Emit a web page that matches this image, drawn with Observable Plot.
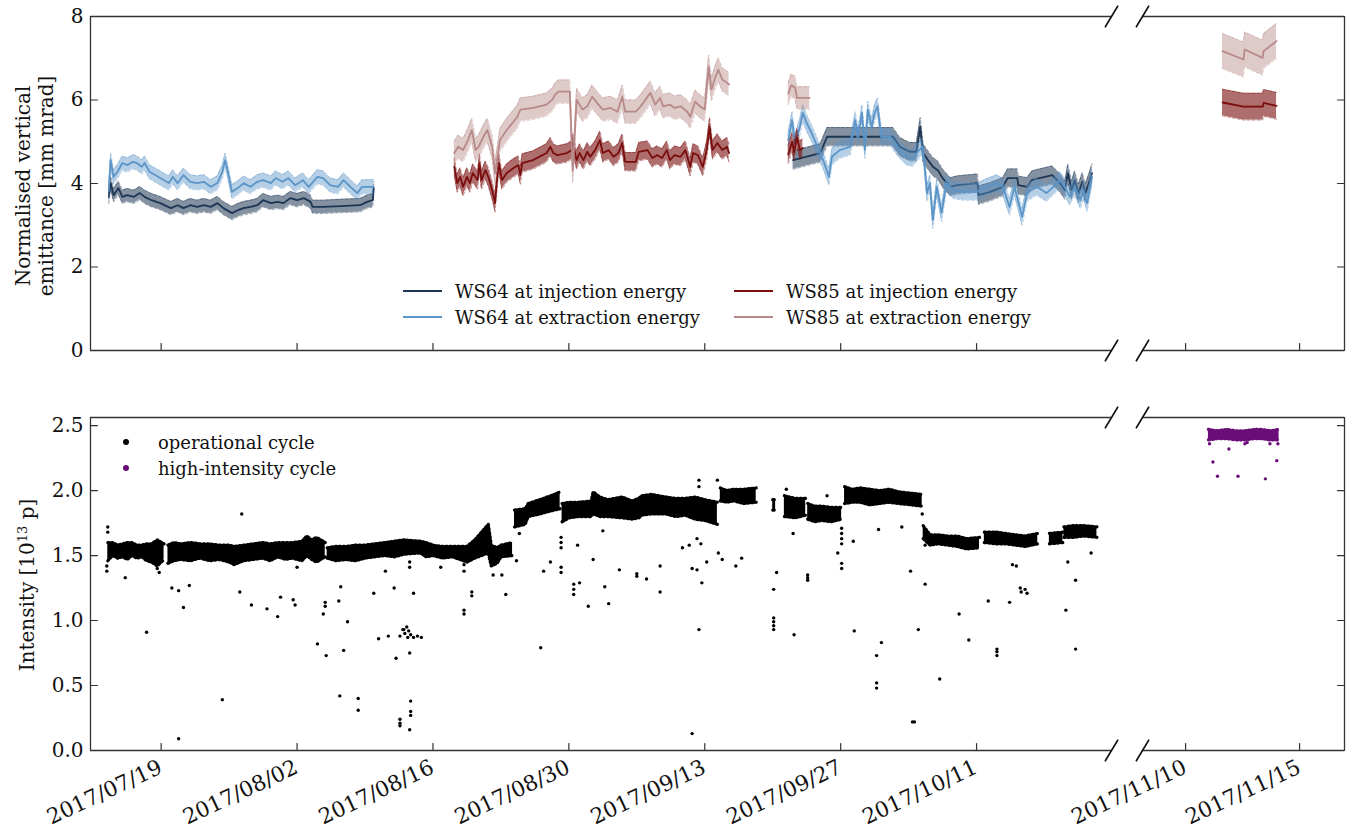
<!DOCTYPE html>
<html><head><meta charset="utf-8">
<script src="https://cdn.jsdelivr.net/npm/d3@7"></script>
<script src="https://cdn.jsdelivr.net/npm/@observablehq/plot@0.6"></script>
<style>
body{margin:0;background:#fff;}
#wrap{position:relative;width:1351px;height:834px;font-family:"DejaVu Serif",serif;color:#111;overflow:hidden;}
.leg{position:absolute;font-size:18px;white-space:nowrap;display:flex;align-items:center;height:24px;}
.ylab{position:absolute;font-size:20px;text-align:center;transform:rotate(-90deg);white-space:nowrap;}
</style></head><body><div id="wrap"></div>
<script>
// ---------- DATA (time t = days since 2017-07-01 UTC) ----------
const xDomainLeft = ["2017-07-11T17:17Z", "2017-10-24T21:36Z"];
const xDomainRight = ["2017-11-08T02:38Z", "2017-11-16T23:17Z"];
const xTicksLeft = ["2017-07-19", "2017-08-02", "2017-08-16", "2017-08-30", "2017-09-13", "2017-09-27", "2017-10-11"];
const xTicksRight = ["2017-11-10", "2017-11-15"];
const yTicksTop = [0, 2, 4, 6, 8];
const yDomainTop = [0, 8];
const yTicksBottom = [0, 0.5, 1.0, 1.5, 2.0, 2.5];
const yDomainBottom = [0, 2.562];

// emittance series [t, value], null separates measurement periods
const ws64Inj = [[12.6,3.68],[12.8,4.01],[13.1,3.72],[13.6,3.89],[14.0,3.68],[14.5,3.72],[15.2,3.68],[15.8,3.77],[16.3,3.68],[17.0,3.60],[17.9,3.53],[19.0,3.41],[19.7,3.48],[20.3,3.41],[21.0,3.48],[21.7,3.44],[22.4,3.48],[23.1,3.44],[23.8,3.53],[24.4,3.41],[25.3,3.29],[25.9,3.36],[26.5,3.41],[27.2,3.44],[27.9,3.48],[28.5,3.60],[29.3,3.53],[30.0,3.56],[30.6,3.53],[31.3,3.65],[32.0,3.60],[32.7,3.65],[33.4,3.56],[33.6,3.44],[34.7,3.44],[36.5,3.46],[38.5,3.48],[39.2,3.56],[39.8,3.60],[39.9,3.89],
  null,
  [83.1,4.56],[85.9,4.73],[86.6,5.12],[89.3,5.12],[92.0,5.12],[93.4,5.12],[94.1,4.88],[95.1,4.76],[95.8,4.76],[96.2,5.36],[96.5,4.73],[97.0,4.56],[97.5,4.40],[98.0,4.32],[98.5,4.13],[99.3,3.92],[100.0,3.96],[102.1,4.01],[102.2,3.72],[103.4,3.80],[104.7,3.92],[105.2,4.13],[106.2,4.13],[106.3,3.96],[107.2,3.92],[107.7,4.08],[108.5,4.13],[109.8,4.20],[110.6,4.01],[111.1,3.84],[111.4,4.25],[111.8,3.84],[112.1,4.08],[112.5,3.77],[112.9,4.04],[113.2,3.77],[113.5,3.96],[113.9,4.25]];
const ws64InjErr = [0.16, 0.22];

const ws64Ext = [[12.6,3.84],[12.8,4.56],[13.1,4.16],[13.5,4.28],[14.0,4.49],[14.5,4.44],[15.1,4.52],[15.5,4.49],[16.0,4.40],[16.3,4.49],[16.8,4.28],[17.9,4.13],[18.8,4.01],[19.2,4.16],[19.7,4.01],[20.3,4.20],[21.0,4.04],[21.7,4.01],[22.4,4.04],[23.1,3.92],[23.8,4.01],[24.3,4.28],[24.6,4.56],[24.9,4.25],[25.3,3.80],[25.9,3.89],[26.5,4.01],[27.2,3.92],[27.9,4.04],[28.5,4.08],[29.3,4.01],[29.8,4.13],[30.5,4.04],[31.1,4.13],[31.8,3.96],[32.6,4.08],[33.2,3.92],[34.1,4.16],[34.7,4.13],[35.4,3.96],[36.2,3.92],[36.8,4.08],[37.5,3.92],[38.2,3.77],[38.7,3.92],[39.9,3.92],
  null,
  [82.6,5.04],[83.0,5.52],[83.3,4.97],[83.8,5.36],[84.1,5.69],[84.5,5.45],[85.0,5.21],[85.6,4.88],[86.2,4.56],[86.8,4.16],[87.1,4.64],[87.9,4.80],[89.0,4.88],[89.5,5.52],[89.8,5.12],[90.2,5.69],[90.5,4.80],[90.8,5.77],[91.2,5.36],[91.5,5.69],[91.8,5.85],[92.2,5.12],[93.1,5.12],[93.9,4.85],[94.8,4.64],[95.4,4.61],[96.4,4.88],[96.6,4.56],[96.9,3.77],[97.2,4.01],[97.5,3.12],[97.9,3.92],[98.4,3.29],[98.9,4.01],[99.6,3.84],[100.6,3.80],[102.0,3.80],[103.1,3.92],[104.1,4.01],[104.7,3.92],[105.4,3.44],[105.9,3.92],[106.7,3.20],[107.2,3.77],[108.2,3.92],[109.2,3.77],[109.9,3.92],[110.6,4.08],[111.1,3.92],[111.6,3.68],[112.1,3.92],[112.7,3.60],[113.0,3.84],[113.4,3.53],[113.9,4.16]];
const ws64ExtErr = [0.17, 0.2];

const ws85Inj = [[48.2,4.40],[48.5,4.01],[48.8,4.16],[49.1,3.92],[49.5,4.16],[49.8,4.01],[50.1,4.25],[50.6,4.08],[50.8,4.49],[51.0,4.08],[51.4,4.32],[51.7,4.16],[52.1,3.84],[52.4,3.53],[52.6,4.08],[52.8,4.49],[53.1,4.08],[53.6,4.25],[54.3,4.37],[54.8,4.44],[55.0,4.20],[55.2,4.49],[56.3,4.56],[57.7,4.73],[58.1,4.88],[58.4,4.73],[58.8,4.68],[59.8,4.73],[60.3,4.80],[60.4,4.97],[60.8,4.56],[61.1,4.73],[61.5,4.56],[61.9,4.76],[62.2,4.64],[62.7,4.80],[63.2,5.04],[63.5,4.73],[64.1,4.80],[64.6,4.64],[65.1,4.73],[65.5,4.97],[65.8,4.52],[66.9,4.52],[67.2,4.76],[68.1,4.80],[68.6,4.61],[69.1,4.68],[69.6,4.61],[70.1,4.80],[70.4,4.56],[70.9,4.68],[71.5,4.64],[72.0,4.80],[72.5,4.40],[72.8,4.73],[73.3,4.68],[73.8,4.40],[74.2,4.80],[74.5,5.36],[74.8,4.80],[75.3,4.97],[75.8,4.80],[76.3,4.88],[76.5,4.73],
  null,
  [82.6,4.70],[83.0,5.00],[83.2,4.75],[83.5,5.10],[83.8,4.80],[84.1,4.85]];
const ws85InjErr = [0.22, 0.22];

const ws85Ext = [[48.2,4.73],[48.6,4.88],[49.1,4.80],[49.6,5.04],[50.0,5.28],[50.4,4.80],[50.7,4.88],[51.2,5.12],[51.6,5.28],[52.1,4.88],[52.4,4.25],[52.9,5.04],[53.6,5.28],[54.7,5.60],[55.0,5.77],[56.3,5.81],[57.7,5.89],[58.3,6.01],[58.6,6.13],[58.9,6.20],[60.1,6.20],[60.4,4.30],[60.8,6.01],[61.4,5.77],[61.9,5.85],[62.4,6.08],[62.9,5.93],[63.5,5.77],[64.3,5.81],[65.0,5.72],[65.5,6.08],[65.8,5.72],[66.9,5.72],[67.4,5.85],[68.4,6.17],[68.9,5.89],[69.4,6.05],[69.7,5.85],[70.4,5.89],[70.9,5.81],[71.5,5.85],[72.2,5.72],[72.5,5.60],[73.0,5.96],[73.5,5.85],[74.0,5.77],[74.4,6.80],[74.7,6.25],[75.0,6.49],[75.4,6.73],[75.8,6.49],[76.3,6.41],[76.5,6.37],
  null,
  [82.6,6.15],[82.9,6.35],[83.3,6.30],[83.5,6.05],[84.8,6.05]];
const ws85ExtErr = [0.28, 0.27];

const ws85InjNov = [[133.62,5.94],[134.54,5.84],[135.38,5.84],[135.42,5.93],[135.99,5.86]];
const ws85InjNovErr = [0.32];
const ws85ExtNov = [[133.62,7.17],[134.54,6.97],[134.59,7.21],[135.38,7.01],[135.42,7.17],[135.99,7.41]];
const ws85ExtNovErr = [0.42];

// intensity: dense operational band [t, low, high], null separates blocks
const opBand = [[12.5,1.46,1.60],[13.0,1.50,1.60],[13.5,1.48,1.58],[14.0,1.49,1.59],[14.5,1.47,1.60],[15.0,1.50,1.60],[15.5,1.48,1.58],[16.0,1.49,1.58],[16.5,1.46,1.59],[17.0,1.45,1.59],[17.6,1.42,1.62],[18.3,1.47,1.59],
  null,[18.7,1.44,1.58],[19.3,1.46,1.60],[20,1.47,1.59],[21,1.46,1.60],[22,1.48,1.59],[23,1.46,1.59],[24,1.47,1.58],[25,1.45,1.58],[25.5,1.43,1.57],[26.5,1.46,1.58],[27.5,1.47,1.59],[28.5,1.48,1.60],[29.2,1.46,1.59],[30,1.49,1.60],[30.8,1.47,1.60],[31.5,1.48,1.60],[32.5,1.46,1.61],[33,1.50,1.65],[33.5,1.47,1.62],[34,1.45,1.64],[34.9,1.49,1.60],
  null,[35.1,1.48,1.56],[36,1.46,1.57],[37,1.47,1.57],[38,1.46,1.58],[39,1.48,1.58],[40,1.49,1.59],[41,1.50,1.60],[42,1.49,1.61],[43,1.51,1.62],[44.7,1.52,1.61],[45.3,1.49,1.60],[46,1.50,1.58],[47,1.48,1.57],[48,1.49,1.57],[49.5,1.45,1.57],[50.3,1.48,1.62],[51.0,1.50,1.68],[51.7,1.52,1.74],[52.0,1.42,1.58],[52.6,1.44,1.56],[53.0,1.49,1.58],[54.2,1.50,1.60],
  null,[54.4,1.72,1.85],[55.5,1.74,1.86],[55.8,1.80,1.90],[57,1.82,1.93],[58.5,1.85,1.97],[59.1,1.86,1.99],
  null,[59.3,1.76,1.90],[60,1.79,1.91],[61,1.80,1.91],[62.3,1.80,1.92],[62.5,1.82,1.99],[63.2,1.80,1.95],[64,1.80,1.93],[65.5,1.79,1.95],[66.5,1.78,1.92],[67.2,1.79,1.94],[67.5,1.81,1.96],[68.5,1.82,1.97],[70,1.82,1.95],[71,1.80,1.94],[72,1.81,1.94],[73,1.78,1.95],[74,1.77,1.93],[75.3,1.74,1.91],
  null,[75.6,1.92,2.02],[76.3,1.91,2.00],[77,1.92,2.01],[78,1.90,2.01],[79.3,1.91,2.02],
  null,[81.0,1.85,1.93],[81.3,1.85,1.93],
  null,[82.2,1.80,1.96],[83.3,1.79,1.94],[84.4,1.81,1.94],
  null,[84.6,1.78,1.90],[85.3,1.76,1.88],[86,1.77,1.88],[87,1.76,1.87],[88.1,1.78,1.87],
  null,[88.4,1.90,2.03],[89.2,1.91,2.01],[90,1.91,2.02],[91,1.89,2.01],[92,1.90,2.00],[93,1.91,2.01],[94,1.90,1.99],[95.2,1.89,1.98],[96.4,1.88,1.97],
  null,[96.5,1.63,1.73],[97.2,1.58,1.66],[98,1.59,1.66],[99,1.58,1.65],[100,1.57,1.65],[101,1.55,1.63],[102.3,1.56,1.64],
  null,[102.8,1.60,1.68],[104,1.59,1.68],[105,1.59,1.67],[106,1.58,1.66],[107,1.57,1.65],[108.3,1.59,1.67],
  null,[109.5,1.59,1.67],[110.9,1.60,1.68],
  null,[111.0,1.64,1.72],[112,1.64,1.73],[113,1.65,1.73],[114.4,1.64,1.72]];

const opDots = [[12.5,1.72],[12.5,1.68],[12.4,1.42],[12.4,1.38],[14.3,1.33],[16.5,0.91],[17.6,1.40],[17.8,1.37],[19.1,1.25],[19.8,1.23],[19.8,0.09],[20.3,1.10],[20.9,1.27],[24.3,0.39],[26.3,1.82],[26.1,1.22],[27.3,1.12],[28.9,1.09],[30.0,1.03],[30.3,1.18],[31.6,1.16],[31.8,1.12],[32.0,1.41],[34.1,0.82],[34.7,1.05],[34.9,1.14],[34.9,1.11],[35.0,0.73],[36.3,1.15],[36.5,1.26],[36.4,0.42],[36.8,0.77],[37.2,0.99],[38.3,0.40],[38.3,0.31],[39.9,1.21],[40.4,0.86],[41.1,1.38],[41.4,0.88],[42.0,1.25],[42.2,0.71],[42.6,0.88],[42.9,0.93],[43.1,0.90],[43.3,0.95],[43.5,0.92],[43.7,0.89],[44.0,0.87],[44.4,0.88],[44.8,0.87],[43.0,0.93],[43.4,0.87],[42.6,0.24],[42.6,0.21],[42.6,0.19],[43.6,0.75],[43.7,0.38],[43.7,0.30],[43.7,0.27],[43.6,0.16],[44.0,1.21],[43.6,1.41],[43.6,1.45],[46.8,1.41],[49.2,1.08],[49.2,1.05],[49.2,1.38],[49.2,1.43],[50.0,1.22],[50.0,1.19],[52.2,1.35],[53.1,1.35],[53.5,1.20],[54.6,1.46],[54.9,1.67],[57.1,0.79],[57.4,1.38],[58.1,1.45],[59.2,1.64],[59.2,1.60],[59.2,1.56],[59.2,1.41],[59.2,1.37],[60.5,1.28],[60.5,1.24],[60.5,1.20],[60.9,1.58],[61.1,1.29],[62.0,1.11],[62.5,1.47],[63.5,1.69],[63.7,1.26],[64.1,1.13],[65.2,1.39],[67.0,1.36],[67.0,1.34],[68.0,1.32],[69.4,1.42],[69.4,1.22],[71.7,1.56],[72.4,1.58],[72.7,1.40],[73.2,1.39],[72.7,0.13],[73.2,1.63],[73.4,0.93],[73.4,2.08],[73.4,2.03],[73.6,1.59],[73.7,1.29],[74.2,1.45],[75.3,2.08],[75.4,1.52],[75.8,1.47],[77.2,1.42],[77.8,1.48],[81.1,1.24],[81.1,1.02],[81.1,0.99],[81.1,0.96],[81.1,0.93],[81.4,1.37],[82.4,2.01],[83.1,1.67],[83.2,0.89],[84.6,1.35],[84.6,1.33],[84.6,1.31],[86.6,1.96],[87.7,1.52],[88.1,1.71],[88.1,1.67],[88.1,1.63],[88.1,1.59],[88.1,1.44],[88.1,1.40],[89.3,1.61],[89.4,0.92],[91.7,0.73],[91.7,0.52],[91.7,0.48],[91.9,1.70],[92.2,0.83],[94.3,1.72],[95.2,1.38],[95.4,0.22],[95.6,0.22],[96.0,0.93],[96.4,1.82],[96.7,1.58],[96.7,1.28],[98.2,0.55],[100.2,1.05],[101.2,0.85],[103.2,1.15],[104.1,0.78],[104.1,0.76],[104.1,0.73],[105.4,1.14],[105.7,1.43],[106.1,1.42],[106.5,1.25],[106.6,1.22],[107.0,1.24],[107.2,1.21],[111.2,1.08],[111.4,1.45],[112.2,1.31],[112.2,0.78],[113.8,1.52]];

const hiBand = [[133.0,2.39,2.47],[133.4,2.40,2.46],[133.8,2.40,2.47],[134.2,2.39,2.46],[134.6,2.39,2.46],[135.0,2.40,2.47],[135.3,2.40,2.47],[135.7,2.39,2.46],[136.1,2.39,2.47]];
const hiDots = [[133.2,2.22],[133.4,2.11],[133.9,2.32],[134.3,2.11],[135.5,2.09],[136.0,2.23],[133.05,2.36],[134.6,2.36],[134.7,2.37],[135.7,2.36],[136.05,2.36]];

// colours
const C = {
  ws64Inj: "#1d3654", ws64Ext: "#5b95c8", ws85Inj: "#7a0d0d", ws85Ext: "#b78989",
  op: "#000000", hi: "#6a0d78", frame: "#333333"
};

// ---------- BUILD ----------
const BASE = Date.UTC(2017, 6, 1);
const day = t => new Date(BASE + t * 864e5);
const P = s => new Date(s.length === 10 ? s + "T00:00:00Z" : s);

function rows(pairs, errs) {
  let seg = 0; const out = [];
  for (const p of pairs) {
    if (p === null) { seg++; continue; }
    const e = errs[seg];
    out.push({date: day(p[0]), v: p[1], lo: p[1] - e, hi: p[1] + e, seg});
  }
  return out;
}
function bandRows(trips) {
  let seg = 0; const out = [];
  for (const p of trips) {
    if (p === null) { seg++; continue; }
    out.push({date: day(p[0]), lo: p[1], hi: p[2], seg});
  }
  return out;
}
const dotRows = pairs => pairs.map(p => ({date: day(p[0]), v: p[1]}));

const lineShape = {draw(ctx, l) { ctx.moveTo(0, 0); ctx.lineTo(0, -l); }};

function seriesMarks(data, color, bandOpacity) {
  return [
    Plot.areaY(data, {x: "date", y1: "lo", y2: "hi", z: "seg", fill: color, fillOpacity: bandOpacity}),
    Plot.line(data, {x: "date", y: "lo", z: "seg", stroke: color, strokeOpacity: 0.55, strokeWidth: 0.8, strokeDasharray: "3,2"}),
    Plot.line(data, {x: "date", y: "hi", z: "seg", stroke: color, strokeOpacity: 0.55, strokeWidth: 0.8, strokeDasharray: "3,2"}),
    Plot.line(data, {x: "date", y: "v", z: "seg", stroke: color, strokeWidth: 1.8})
  ];
}
function bandMarks(data, color) {
  return [
    Plot.areaY(data, {x: "date", y1: "lo", y2: "hi", z: "seg", fill: color}),
    Plot.line(data, {x: "date", y: "lo", z: "seg", stroke: color, strokeWidth: 3.2, strokeDasharray: "1.5,2.5", strokeLinecap: "round"}),
    Plot.line(data, {x: "date", y: "hi", z: "seg", stroke: color, strokeWidth: 3.2, strokeDasharray: "1.5,2.5", strokeLinecap: "round"})
  ];
}

function frameMarks(side, xd, yd, yTicks, xTicks) {
  const xEdge = side === "left" ? xd[0] : xd[1];
  const xBreak = side === "left" ? xd[1] : xd[0];
  return [
    Plot.ruleY([yd[1]], {stroke: C.frame, strokeWidth: 1.3}),
    Plot.ruleY([yd[0]], {stroke: C.frame, strokeWidth: 1.3}),
    Plot.ruleX([xEdge], {stroke: C.frame, strokeWidth: 1.3}),
    Plot.vector(xTicks, {x: d => d, frameAnchor: "bottom", length: 7, rotate: 0, anchor: "start", shape: lineShape, stroke: C.frame, strokeWidth: 1.2}),
    Plot.vector(yTicks, {y: d => d, frameAnchor: side, length: 7, rotate: side === "left" ? 90 : -90, anchor: "start", shape: lineShape, stroke: C.frame, strokeWidth: 1.2}),
    Plot.vector([xBreak], {x: d => d, frameAnchor: "top", length: 24, rotate: 31, anchor: "middle", shape: lineShape, stroke: "#111", strokeWidth: 1.6}),
    Plot.vector([xBreak], {x: d => d, frameAnchor: "bottom", length: 24, rotate: 31, anchor: "middle", shape: lineShape, stroke: "#111", strokeWidth: 1.6})
  ];
}

// rotated date labels drawn as a text mark at each tick
const fmtDate = d3.utcFormat("%Y/%m/%d");
const dateLabels = ticks => Plot.text(ticks, {
  x: d => d, frameAnchor: "bottom", text: d => fmtDate(d), rotate: -25,
  textAnchor: "end", lineAnchor: "top", dx: -4, dy: 8, fontSize: 21.5, fill: "#111"
});

const wrap = document.getElementById("wrap");
const STYLE = {fontFamily: "DejaVu Serif", fontSize: "20px", background: "transparent", overflow: "visible", color: "#111"};

function place(svg, left, top) {
  svg.style.position = "absolute";
  svg.style.left = left + "px";
  svg.style.top = top + "px";
  wrap.appendChild(svg);
}

const xdL = xDomainLeft.map(P), xdR = xDomainRight.map(P);
const xtL = xTicksLeft.map(P), xtR = xTicksRight.map(P);

// top-left
place(Plot.plot({
  width: 1125, height: 370, marginLeft: 90, marginRight: 14, marginTop: 16, marginBottom: 20,
  x: {type: "utc", domain: xdL, axis: null},
  y: {domain: yDomainTop, label: null},
  style: STYLE,
  marks: [
    ...seriesMarks(rows(ws64Inj, ws64InjErr), C.ws64Inj, 0.55),
    ...seriesMarks(rows(ws64Ext, ws64ExtErr), C.ws64Ext, 0.45),
    ...seriesMarks(rows(ws85Inj, ws85InjErr), C.ws85Inj, 0.6),
    ...seriesMarks(rows(ws85Ext, ws85ExtErr), C.ws85Ext, 0.45),
    Plot.axisY(yTicksTop, {tickSize: 0, tickPadding: 7, label: null, fontSize: 20}),
    ...frameMarks("left", xdL, yDomainTop, yTicksTop, xtL)
  ]
}), 0, 0);

// top-right
place(Plot.plot({
  width: 226, height: 370, marginLeft: 17, marginRight: 7, marginTop: 16, marginBottom: 20,
  x: {type: "utc", domain: xdR, axis: null},
  y: {domain: yDomainTop, axis: null},
  style: STYLE,
  marks: [
    ...seriesMarks(rows(ws85InjNov, ws85InjNovErr), C.ws85Inj, 0.6),
    ...seriesMarks(rows(ws85ExtNov, ws85ExtNovErr), C.ws85Ext, 0.45),
    ...frameMarks("right", xdR, yDomainTop, yTicksTop, xtR)
  ]
}), 1125, 0);

// bottom-left
place(Plot.plot({
  width: 1125, height: 444, marginLeft: 90, marginRight: 14, marginTop: 27, marginBottom: 84,
  x: {type: "utc", domain: xdL, axis: null},
  y: {domain: yDomainBottom, label: null},
  style: STYLE,
  marks: [
    ...bandMarks(bandRows(opBand), C.op),
    Plot.dot(dotRows(opDots), {x: "date", y: "v", r: 1.7, fill: C.op}),
    Plot.axisY(yTicksBottom, {tickSize: 0, tickPadding: 7, label: null, tickFormat: d3.format(".1f"), fontSize: 20}),
    dateLabels(xtL),
    ...frameMarks("left", xdL, yDomainBottom, yTicksBottom, xtL)
  ]
}), 0, 390);

// bottom-right
place(Plot.plot({
  width: 226, height: 444, marginLeft: 17, marginRight: 7, marginTop: 27, marginBottom: 84,
  x: {type: "utc", domain: xdR, axis: null},
  y: {domain: yDomainBottom, axis: null},
  style: STYLE,
  marks: [
    ...bandMarks(bandRows(hiBand), C.hi),
    Plot.dot(dotRows(hiDots), {x: "date", y: "v", r: 1.7, fill: C.hi}),
    dateLabels(xtR),
    ...frameMarks("right", xdR, yDomainBottom, yTicksBottom, xtR)
  ]
}), 1125, 390);

// ---------- LABELS & LEGENDS ----------
function ylabel(html, cx, cy, w, h) {
  const d = document.createElement("div");
  d.className = "ylab";
  d.style.width = w + "px"; d.style.height = h + "px"; d.style.lineHeight = "23px";
  d.style.left = (cx - w / 2) + "px"; d.style.top = (cy - h / 2) + "px";
  d.innerHTML = html;
  wrap.appendChild(d);
}
ylabel("Normalised vertical<br>emittance [mm mrad]", 35, 186, 300, 46);
ylabel("Intensity [10<sup style='font-size:13px;vertical-align:7px;line-height:0'>13</sup> p]", 28, 585, 300, 24);

function legLine(x, y, color, text) {
  const d = document.createElement("div");
  d.className = "leg";
  d.style.left = x + "px"; d.style.top = (y - 12) + "px";
  d.innerHTML = `<svg width="39" height="6" style="margin-right:13px"><line x1="0" y1="3" x2="39" y2="3" stroke="${color}" stroke-width="2"/></svg>${text}`;
  wrap.appendChild(d);
}
function legDot(x, y, color, text) {
  const d = document.createElement("div");
  d.className = "leg";
  d.style.left = (x - 4) + "px"; d.style.top = (y - 12) + "px";
  d.innerHTML = `<svg width="8" height="8" style="margin-right:28px"><circle cx="4" cy="4" r="3" fill="${color}"/></svg>${text}`;
  wrap.appendChild(d);
}
legLine(403, 291, C.ws64Inj, "WS64 at injection energy");
legLine(403, 317, C.ws64Ext, "WS64 at extraction energy");
legLine(734, 291, C.ws85Inj, "WS85 at injection energy");
legLine(734, 317, C.ws85Ext, "WS85 at extraction energy");
legDot(126, 442, C.op, "operational cycle");
legDot(126, 468, C.hi, "high-intensity cycle");
</script></body></html>
